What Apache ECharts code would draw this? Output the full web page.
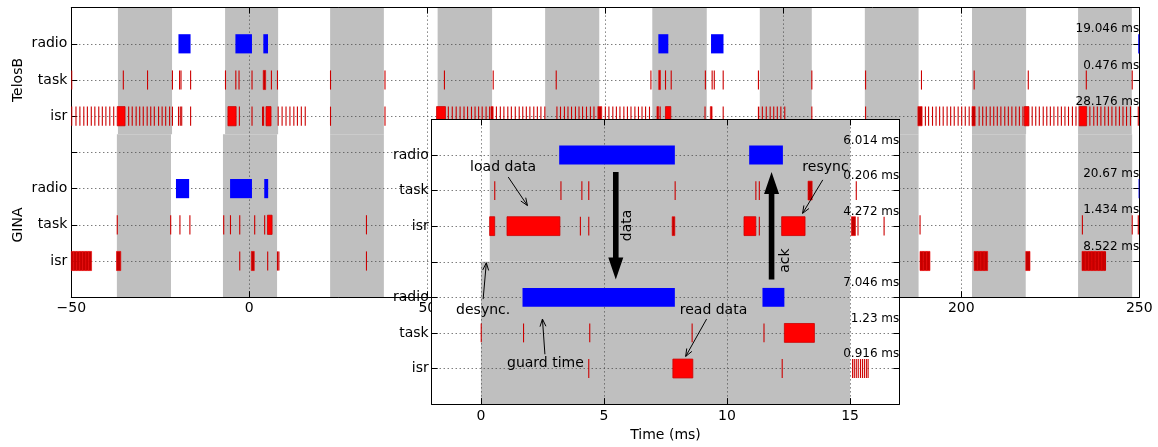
<!DOCTYPE html>
<html><head><meta charset="utf-8">
<script src="https://cdn.jsdelivr.net/npm/echarts@6/dist/echarts.min.js"></script>
<style>html,body{margin:0;padding:0;background:#fff}#c{width:1158px;height:447px}</style>
</head><body><div id="c"></div>
<script>
// ================= DATA =================
// y-row tick labels (index = y value)
const yTickLabels = ['', 'isr', 'task', 'radio', '', 'isr', 'task', 'radio', ''];
const mainXTicks = [-50, 0, 50, 100, 150, 200, 250];

// main chart: shaded (gray) periods, [start, end] in ms
const mainBandsTelosB = [[-36.9,-21.7],[-6.8,8.1],[22.7,37.8],[52.9,68.2],[83.1,98.3],[113.2,128.5],[143.4,158.0],[172.9,188.0],[203.0,218.2],[232.8,247.9]];
const mainBandsGINA = [[-37.2,-22.0],[-7.4,7.8],[22.7,37.8],[52.9,68.2],[83.1,98.3],[113.2,128.5],[143.4,158.0],[172.9,188.0],[203.0,218.1],[232.8,248.0]];

// main chart activity (single number = very short event, pair = [start, end])
const telosbRadio = [[-19.9,-16.5],[-3.9,0.75],[3.94,5.26],[114.9,117.7],[129.7,133.2],[249.7,250.5]];
const telosbTask = [-49.9,-35.4,-28.6,-21.6,-19.6,-19.2,-16.5,-6.7,-3.8,[-2.9,-2.6],0.75,[3.9,4.6],6.2,7.9,22.8,38.1,54.8,68.5,86.2,112.8,[115.0,115.5],116.9,118.5,128.1,130.0,130.6,133.1,143.0,158.0,173.1,188.8,203.6,218.8,235.1,248.0];
const telosbIsr = [-49.9,-48.7,-47.6,-46.5,-45.5,-44.4,-43.4,-42.3,-41.3,-40.3,-39.2,-38.1,[-37.1,-34.9],-33.9,-32.9,-31.8,-30.8,-29.8,-28.7,-27.7,-26.7,-25.5,-24.5,-23.5,-22.4,-21.6,-19.9,-19.4,-19.0,-16.5,[-6.0,-3.7],-2.8,0.75,3.7,4.0,[4.7,6.1],8.1,9.2,10.3,11.4,12.5,13.5,14.6,15.7,22.8,38.1,[52.6,55.1],55.9,57.0,58.1,59.2,60.3,61.3,62.4,63.4,64.4,65.4,66.5,67.5,[67.9,68.5],69.4,70.5,71.5,72.6,73.6,74.7,75.8,76.8,77.8,78.8,79.9,80.9,81.9,83.0,86.4,87.4,88.5,89.5,90.5,91.6,92.6,93.6,94.7,95.8,96.8,[97.9,99.0],100.0,101.0,102.1,103.1,104.1,105.2,106.2,107.2,108.3,109.3,110.3,111.3,112.4,[114.5,115.0],115.4,[116.9,118.4],128.0,[129.5,130.0],133.1,[143.0,143.4],144.1,145.2,146.3,147.3,148.3,149.3,150.4,158.0,173.1,[187.8,189.0],189.9,190.8,191.9,192.9,193.9,194.9,196.0,197.0,198.0,199.1,200.1,201.1,202.2,[203.0,203.9],205.0,206.0,207.0,208.1,209.1,210.1,211.1,212.2,213.2,214.2,215.3,216.3,217.3,[217.7,219.0],219.9,220.9,221.9,223.0,224.0,225.0,226.0,227.1,228.1,229.1,230.1,231.2,232.2,[233.1,235.2],236.1,237.2,238.2,239.2,240.3,241.3,242.3,243.4,244.4,245.4,246.4,247.5,249.7];
const ginaRadio = [[-20.6,-16.9],[-5.4,0.75],[4.2,5.3],[249.8,250.5]];
const ginaTask = [-37.1,-22.1,-19.5,-16.7,-7.2,-5.3,-2.7,1.5,4.3,[5.1,6.4],32.9,188.4,234.0,248.0,249.7];
const ginaIsr = [[-50,-49.3],[-49.3,-48.5],[-48.5,-47.6],[-47.6,-46.8],[-46.8,-45.9],[-45.9,-45.1],[-45.1,-44.3],[-37.3,-36.1],-2.7,[0.56,1.4],5.15,[7.9,8.3],[8.3,8.6],32.9,[188.4,189.3],[189.3,190.3],[190.3,191.2],[203.6,204.5],[204.5,205.5],[205.5,206.4],[206.4,207.4],[218.1,219.3],[233.9,234.8],[234.8,235.8],[235.8,236.7],[236.7,237.6],[237.6,238.6],[238.6,239.5],[239.5,240.4],[240.4,240.8]];
const mainDurations = ['19.046 ms','0.476 ms','28.176 ms','20.67 ms','1.434 ms','8.522 ms'];

// inset (zoom) chart
const insetBandTelosB = [[0.36, 15.0]];
const insetBandGINA = [[0.0, 15.0]];
const zTelosbRadio = [[3.18,7.88],[10.9,12.27]];
const zTelosbTask = [0.56,3.25,4.10,4.38,7.89,11.17,11.31,11.84,[13.29,13.46],15.25];
const zTelosbIsr = [[0.355,0.56],[1.06,3.21],4.04,4.38,[7.77,7.88],[10.69,11.17],11.31,11.76,[12.22,13.17],[15.05,15.22],15.32,16.38];
const zGinaRadio = [[1.69,7.88],[11.44,12.33]];
const zGinaTask = [0.01,1.73,4.42,8.58,11.5,[12.33,13.55]];
const zGinaIsr = [4.38,[7.8,8.61],12.24,15.10,15.17,15.25,15.33,15.42,15.50,15.58,15.66,15.73];
const insetDurations = ['6.014 ms','0.206 ms','4.272 ms','7.046 ms','1.23 ms','0.916 ms'];
const insetXTicks = [0, 5, 10, 15];

// annotations in inset data coords
const annoTexts = ['load data','resync','desync.','guard time','read data'];
const annoTextPos = [[0.90,6.66],[14.0,6.66],[0.09,2.64],[2.62,1.15],[9.45,2.64]];
const annoArrows = [[[1.11,6.38],[1.89,5.58]],[[13.89,6.30],[13.07,5.36]],[[0.09,2.95],[0.22,3.97]],[[2.60,1.40],[2.50,2.39]],[[9.17,2.39],[8.32,1.34]]];
const bigArrowLabels = ['data','ack'];
const bigArrows = [[[5.48,6.52],[5.48,3.50]],[[11.81,3.50],[11.81,6.52]]];
const bigArrowLabelPos = [[5.97,5.02],[12.38,4.03]];

// ================= BUILD =================
const FONT = '"DejaVu Sans", "Liberation Sans", sans-serif';
const ROW_Y = {tRadio:7, tTask:6, tIsr:5, gRadio:3, gTask:2, gIsr:1};
const COLORS = ['#0000ff', '#ff0000'];

function toBars(list, y, colorIdx) {
  return list.map(e => Array.isArray(e) ? [e[0], e[1], y, colorIdx] : [e, e, y, colorIdx]);
}
const mainBars = [].concat(
  toBars(telosbRadio, ROW_Y.tRadio, 0), toBars(telosbTask, ROW_Y.tTask, 1), toBars(telosbIsr, ROW_Y.tIsr, 1),
  toBars(ginaRadio, ROW_Y.gRadio, 0), toBars(ginaTask, ROW_Y.gTask, 1), toBars(ginaIsr, ROW_Y.gIsr, 1));
const insetBars = [].concat(
  toBars(zTelosbRadio, ROW_Y.tRadio, 0), toBars(zTelosbTask, ROW_Y.tTask, 1), toBars(zTelosbIsr, ROW_Y.tIsr, 1),
  toBars(zGinaRadio, ROW_Y.gRadio, 0), toBars(zGinaTask, ROW_Y.gTask, 1), toBars(zGinaIsr, ROW_Y.gIsr, 1));
const mainBandData = mainBandsTelosB.map(b => [b[0], b[1], 4.5, 8]).concat(mainBandsGINA.map(b => [b[0], b[1], 0, 4.5]));
const insetBandData = insetBandTelosB.map(b => [b[0], b[1], 4.0, 8]).concat(insetBandGINA.map(b => [b[0], b[1], 0, 4.0]));
const durRows = [7, 6, 5, 3, 2, 1];

function clip(rect, params) {
  const cs = params.coordSys;
  return echarts.graphic.clipRectByRect(rect, {x: cs.x, y: cs.y, width: cs.width, height: cs.height});
}
function bandRender(color) {
  return function (params, api) {
    const p0 = api.coord([api.value(0), api.value(3)]);
    const p1 = api.coord([api.value(1), api.value(2)]);
    const r = clip({x: p0[0], y: p0[1], width: p1[0] - p0[0], height: p1[1] - p0[1]}, params);
    return r && {type: 'rect', shape: r, style: {fill: color}};
  };
}
function barRender(params, api) {
  const s = api.value(0), e = api.value(1), y = api.value(2), c = api.value(3);
  const p0 = api.coord([s, y]), p1 = api.coord([e, y]);
  const h = api.size([0, 0.53])[1];
  let x = p0[0], w = p1[0] - p0[0];
  let kind = 'wide';
  if (w < 1.6) { kind = 'thin'; x = x - 0.5; w = Math.max(w, 1.1); }
  else if (w < 4.5) kind = 'narrow';
  const r = clip({x: x, y: p0[1] - h / 2, width: w, height: h}, params);
  if (!r) return null;
  let style;
  if (c === 0) style = {fill: COLORS[0]};
  else if (kind === 'thin') style = {fill: '#cc0000'};
  else if (kind === 'narrow') style = {fill: '#c40000', stroke: '#ee0000', lineWidth: 0.6};
  else style = {fill: COLORS[1], stroke: '#cc0000', lineWidth: 0.8};
  return {type: 'rect', shape: r, style: style};
}
function durRender(texts, xAnchor) {
  return function (params, api) {
    const i = params.dataIndex;
    const p = api.coord([xAnchor, durRows[i] + 0.4]);
    return {type: 'text', x: p[0], y: p[1], style: {text: texts[i], fill: '#000', font: '12px ' + FONT, align: 'right', verticalAlign: 'middle'}};
  };
}
function annoRender(params, api) {
  const i = params.dataIndex;
  const children = [];
  if (i < annoTexts.length) {
    const tp = api.coord(annoTextPos[i]);
    children.push({type: 'text', x: tp[0], y: tp[1], style: {text: annoTexts[i], fill: '#000', font: '14px ' + FONT, align: 'center', verticalAlign: 'middle'}});
    const a = api.coord(annoArrows[i][0]), b = api.coord(annoArrows[i][1]);
    const ang = Math.atan2(b[1] - a[1], b[0] - a[0]);
    const L = 8, sp = 0.38;
    children.push({type: 'line', shape: {x1: a[0], y1: a[1], x2: b[0], y2: b[1]}, style: {stroke: '#000', lineWidth: 1}});
    children.push({type: 'polyline', shape: {points: [
      [b[0] - L * Math.cos(ang - sp), b[1] - L * Math.sin(ang - sp)], b,
      [b[0] - L * Math.cos(ang + sp), b[1] - L * Math.sin(ang + sp)]]}, style: {stroke: '#000', fill: null, lineWidth: 1}});
  } else {
    const k = i - annoTexts.length;
    const a = api.coord(bigArrows[k][0]), b = api.coord(bigArrows[k][1]);
    const x = a[0], d = Math.sign(b[1] - a[1]);
    const sw = 2.8, hw = 7.5, hl = 22;
    children.push({type: 'polygon', shape: {points: [
      [x - sw, a[1]], [x + sw, a[1]], [x + sw, b[1] - d * hl], [x + hw, b[1] - d * hl], [x, b[1]],
      [x - hw, b[1] - d * hl], [x - sw, b[1] - d * hl]]}, style: {fill: '#000'}});
    const lp = api.coord(bigArrowLabelPos[k]);
    children.push({type: 'text', x: lp[0], y: lp[1], rotation: Math.PI / 2, style: {text: bigArrowLabels[k], fill: '#000', font: '14px ' + FONT, align: 'center', verticalAlign: 'middle'}});
  }
  return {type: 'group', children: children};
}

const gridLine = {show: true, lineStyle: {color: '#444', type: [1, 3], width: 1}};
const axLine = {show: true, onZero: false, lineStyle: {color: '#000', width: 1}};
const axTick = {show: true, inside: true, length: 6, lineStyle: {color: '#000', width: 1}};
const lblStyle = {color: '#000', fontSize: 14, fontFamily: FONT};
const minus = v => (v < 0 ? '\u2212' + (-v) : String(v));

const chart = echarts.init(document.getElementById('c'), null, {renderer: 'canvas'});
chart.setOption({
  animation: false,
  backgroundColor: '#fff',
  grid: [
    {left: 71.3, right: 18.7, top: 7.6, bottom: 149.8, show: false},
    {left: 431.7, right: 258.7, top: 119.4, bottom: 38.6, show: false}
  ],
  xAxis: [
    {gridIndex: 0, type: 'value', min: -50, max: 250, interval: 50, position: 'bottom', z: 3,
     axisLine: axLine, axisTick: axTick, splitLine: gridLine,
     axisLabel: Object.assign({margin: 4, formatter: v => mainXTicks.includes(v) ? minus(v) : ''}, lblStyle)},
    {gridIndex: 0, type: 'value', min: -50, max: 250, interval: 50, position: 'top', z: 3,
     axisLine: axLine, axisTick: axTick, splitLine: {show: false}, axisLabel: {show: false}},
    {gridIndex: 1, type: 'value', min: -2, max: 17, splitNumber: 4, position: 'bottom', z: 12,
     axisLine: axLine, axisTick: axTick, splitLine: gridLine,
     name: 'Time (ms)', nameLocation: 'middle', nameGap: 21, nameTextStyle: lblStyle,
     axisLabel: Object.assign({margin: 5, showMinLabel: false, showMaxLabel: false,
       formatter: v => insetXTicks.includes(v) ? String(v) : ''}, lblStyle)},
    {gridIndex: 1, type: 'value', min: -2, max: 17, splitNumber: 4, position: 'top', z: 12,
     axisLine: axLine, axisTick: axTick, splitLine: {show: false}, axisLabel: {show: false}}
  ],
  yAxis: [
    {gridIndex: 0, type: 'value', min: 0, max: 8, interval: 1, position: 'left', z: 3,
     axisLine: axLine, axisTick: axTick, splitLine: gridLine,
     axisLabel: Object.assign({margin: 4, formatter: v => yTickLabels[Math.round(v)] || ''}, lblStyle)},
    {gridIndex: 0, type: 'value', min: 0, max: 8, interval: 1, position: 'right', z: 3,
     axisLine: axLine, axisTick: axTick, splitLine: {show: false}, axisLabel: {show: false}},
    {gridIndex: 1, type: 'value', min: 0, max: 8, interval: 1, position: 'left', z: 12,
     axisLine: axLine, axisTick: axTick, splitLine: gridLine,
     axisLabel: Object.assign({margin: 3, formatter: v => yTickLabels[Math.round(v)] || ''}, lblStyle)},
    {gridIndex: 1, type: 'value', min: 0, max: 8, interval: 1, position: 'right', z: 12,
     axisLine: axLine, axisTick: axTick, splitLine: {show: false}, axisLabel: {show: false}}
  ],
  graphic: [
    {type: 'text', x: 18, y: 80, rotation: Math.PI / 2, style: {text: 'TelosB', fill: '#000', font: '14px ' + FONT, align: 'center', verticalAlign: 'middle'}},
    {type: 'text', x: 18, y: 225, rotation: Math.PI / 2, style: {text: 'GINA', fill: '#000', font: '14px ' + FONT, align: 'center', verticalAlign: 'middle'}}
  ],
  series: [
    {type: 'custom', name: 'bands', xAxisIndex: 0, yAxisIndex: 0, z: 1, silent: true, renderItem: bandRender('#bfbfbf'), data: mainBandData},
    {type: 'custom', name: 'activity', xAxisIndex: 0, yAxisIndex: 0, z: 4, silent: true, renderItem: barRender, data: mainBars},
    {type: 'custom', name: 'durations', xAxisIndex: 0, yAxisIndex: 0, z: 5, silent: true, renderItem: durRender(mainDurations, 250), data: mainDurations.map((t, i) => [i])},
    {type: 'custom', name: 'insetBg', xAxisIndex: 2, yAxisIndex: 2, z: 10, silent: true, renderItem: bandRender('#ffffff'), data: [[-2, 17, 0, 8]]},
    {type: 'custom', name: 'insetBands', xAxisIndex: 2, yAxisIndex: 2, z: 11, silent: true, renderItem: bandRender('#bfbfbf'), data: insetBandData},
    {type: 'custom', name: 'insetActivity', xAxisIndex: 2, yAxisIndex: 2, z: 13, silent: true, renderItem: barRender, data: insetBars},
    {type: 'custom', name: 'insetDurations', xAxisIndex: 2, yAxisIndex: 2, z: 14, silent: true, renderItem: durRender(insetDurations, 17), data: insetDurations.map((t, i) => [i])},
    {type: 'custom', name: 'annotations', xAxisIndex: 2, yAxisIndex: 2, z: 14, silent: true, renderItem: annoRender,
     data: annoTexts.map((t, i) => [i]).concat(bigArrowLabels.map((t, i) => [annoTexts.length + i]))}
  ]
});
</script></body></html>
